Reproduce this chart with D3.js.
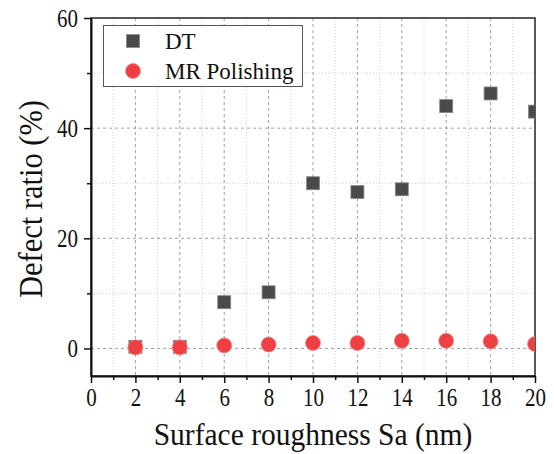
<!DOCTYPE html>
<html>
<head>
<meta charset="utf-8">
<script src="https://cdn.jsdelivr.net/npm/d3@7/dist/d3.min.js"></script>
<style>
  html, body { margin: 0; padding: 0; background: #fff; }
  svg { display: block; }
  text { font-family: "Liberation Serif", "Times New Roman", serif; fill: #111; }
</style>
</head>
<body>
<svg id="chart" width="554" height="454"></svg>
<script>
// ---- data ----
const roughness = [2, 4, 6, 8, 10, 12, 14, 16, 18, 20];
const dtValues = [0.3, 0.3, 8.4, 10.2, 30.0, 28.4, 28.9, 44.0, 46.3, 43.0];
const mrValues = [0.2, 0.2, 0.55, 0.7, 1.0, 1.0, 1.4, 1.4, 1.3, 0.8];
const seriesNames = ["DT", "MR Polishing"];
const xMajorTicks = [0, 2, 4, 6, 8, 10, 12, 14, 16, 18, 20];
const xMinorTicks = [1, 3, 5, 7, 9, 11, 13, 15, 17, 19];
const yMajorTicks = [0, 20, 40, 60];
const yMinorTicks = [10, 30, 50];
const xTitle = "Surface roughness Sa (nm)";
const yTitle = "Defect ratio (%)";

// ---- layout ----
const L = 91, R = 535, T = 18, B = 376;
const svg = d3.select("#chart");
const x = d3.scaleLinear().domain([0, 20]).range([L, R]);
const y = d3.scaleLinear().domain([-5, 60]).range([B, T]);

const tickScale = 1.17;

// grid
const grid = svg.append("g");
grid.selectAll(".gxmin").data(xMinorTicks).join("line")
  .attr("x1", d => x(d)).attr("x2", d => x(d)).attr("y1", T).attr("y2", B)
  .attr("stroke", "#cfcfcf").attr("stroke-width", 1).attr("stroke-dasharray", "1,2");
grid.selectAll(".gymin").data(yMinorTicks).join("line")
  .attr("x1", L).attr("x2", R).attr("y1", d => y(d)).attr("y2", d => y(d))
  .attr("stroke", "#cfcfcf").attr("stroke-width", 1).attr("stroke-dasharray", "1,2");
grid.selectAll(".gxmaj").data(xMajorTicks.filter(d => d > 0 && d < 20)).join("line")
  .attr("x1", d => x(d)).attr("x2", d => x(d)).attr("y1", T).attr("y2", B)
  .attr("stroke", "#a0a0a0").attr("stroke-width", 1).attr("stroke-dasharray", "3,3");
grid.selectAll(".gymaj").data(yMajorTicks.filter(d => d < 60)).join("line")
  .attr("x1", L).attr("x2", R).attr("y1", d => y(d)).attr("y2", d => y(d))
  .attr("stroke", "#a0a0a0").attr("stroke-width", 1).attr("stroke-dasharray", "3,3");

// frame (top, right)
svg.append("rect").attr("x", L).attr("y", T).attr("width", R - L).attr("height", B - T)
  .attr("fill", "none").attr("stroke", "#222").attr("stroke-width", 1.5);

// axes
function styleAxis(g) {
  g.select(".domain").attr("stroke", "#111").attr("stroke-width", 2);
  g.selectAll(".tick line").attr("stroke", "#111").attr("stroke-width", 1.5);
}
const xAxis = svg.append("g").attr("transform", `translate(0,${B})`)
  .call(d3.axisBottom(x).tickValues(xMajorTicks).tickSize(7).tickSizeOuter(0).tickPadding(10).tickFormat(d3.format("d")));
styleAxis(xAxis);
xAxis.selectAll(".tick text")
  .attr("font-size", 21).attr("font-family", "Liberation Serif").attr("fill", "#111")
  .attr("dy", null).attr("y", 30 / tickScale)
  .attr("transform", `scale(1,${tickScale})`);
const xMinor = svg.append("g").attr("transform", `translate(0,${B})`)
  .call(d3.axisBottom(x).tickValues(xMinorTicks).tickSize(4).tickFormat(""));
xMinor.select(".domain").remove();
xMinor.selectAll(".tick line").attr("stroke", "#111").attr("stroke-width", 1.5);

const yAxis = svg.append("g").attr("transform", `translate(${L},0)`)
  .call(d3.axisLeft(y).tickValues(yMajorTicks).tickSize(7).tickSizeOuter(0).tickPadding(6).tickFormat(d3.format("d")));
styleAxis(yAxis);
yAxis.selectAll(".tick text")
  .attr("font-size", 21).attr("font-family", "Liberation Serif").attr("fill", "#111")
  .attr("dy", null).attr("y", 8 / tickScale)
  .attr("transform", `scale(1,${tickScale})`);
const yMinor = svg.append("g").attr("transform", `translate(${L},0)`)
  .call(d3.axisLeft(y).tickValues(yMinorTicks).tickSize(4).tickFormat(""));
yMinor.select(".domain").remove();
yMinor.selectAll(".tick line").attr("stroke", "#111").attr("stroke-width", 1.5);

// axis titles
const titleScale = 1.1;
svg.append("text")
  .attr("transform", `translate(${(L + R) / 2},445) scale(1,${titleScale})`)
  .attr("text-anchor", "middle").attr("font-size", 29.5).text(xTitle);
svg.append("text")
  .attr("transform", `translate(42,${(T + B) / 2 + 2}) rotate(-90) scale(1,${titleScale})`)
  .attr("text-anchor", "middle").attr("font-size", 30.5).text(yTitle);

// markers (clip to plot)
svg.append("clipPath").attr("id", "clip").append("rect")
  .attr("x", L).attr("y", T).attr("width", R - L).attr("height", B - T);
const marks = svg.append("g").attr("clip-path", "url(#clip)");
const sq = 13;
marks.selectAll(".dt").data(roughness.map((r, i) => [r, dtValues[i]])).join("rect")
  .attr("x", d => x(d[0]) - sq / 2).attr("y", d => y(d[1]) - sq / 2)
  .attr("width", sq).attr("height", sq)
  .attr("fill", "#4a4a4a").attr("stroke", "#8a8a8a").attr("stroke-width", 0.8);
marks.selectAll(".mr").data(roughness.map((r, i) => [r, mrValues[i]])).join("circle")
  .attr("cx", d => x(d[0])).attr("cy", d => y(d[1])).attr("r", 7.5)
  .attr("fill", "#ee3f42").attr("stroke", "#f28a8a").attr("stroke-width", 0.8);

// legend
const lg = svg.append("g");
lg.append("rect").attr("x", 103.5).attr("y", 25.5).attr("width", 199).attr("height", 61)
  .attr("fill", "#fff").attr("stroke", "#555").attr("stroke-width", 1);
lg.append("rect").attr("x", 133 - sq / 2).attr("y", 41 - sq / 2).attr("width", sq).attr("height", sq)
  .attr("fill", "#4a4a4a").attr("stroke", "#8a8a8a").attr("stroke-width", 0.8);
lg.append("circle").attr("cx", 133).attr("cy", 71).attr("r", 7.5)
  .attr("fill", "#ee3f42").attr("stroke", "#f28a8a").attr("stroke-width", 0.8);
lg.append("text").attr("x", 165).attr("y", 49).attr("font-size", 23).text(seriesNames[0]);
lg.append("text").attr("x", 165).attr("y", 79).attr("font-size", 23).text(seriesNames[1]);
</script>
</body>
</html>
